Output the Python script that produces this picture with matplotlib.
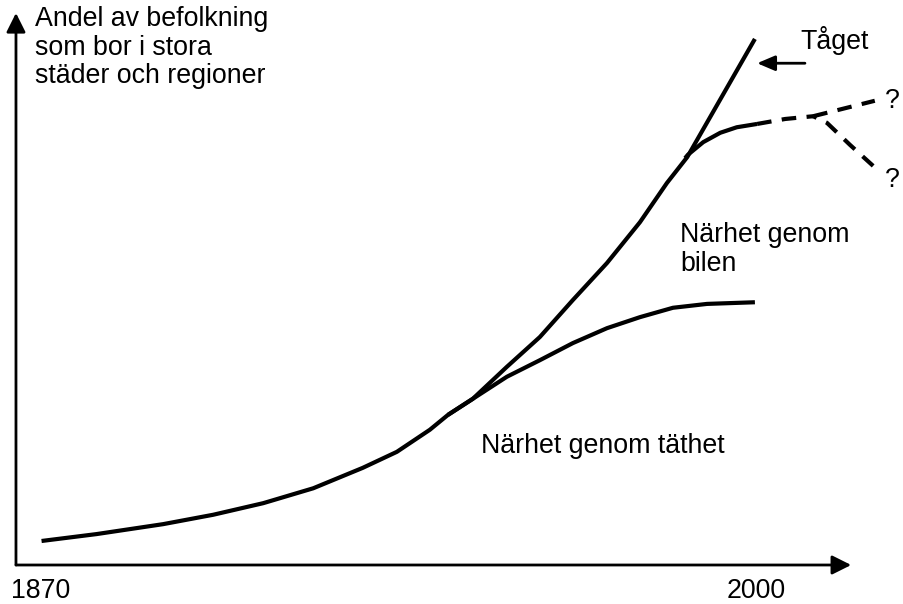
import matplotlib
matplotlib.use("Agg")
import matplotlib.pyplot as plt

plt.rcParams['font.family'] = ['Liberation Sans', 'DejaVu Sans']

# schematic values: x = year, y = share of population (0..100)
main_years = [1870.1, 1880.1, 1892.2, 1901.3, 1910.4, 1919.5, 1928.5, 1934.7, 1940.7, 1944.0,
              1948.5, 1954.7, 1960.7, 1966.7, 1972.9, 1978.9, 1983.8, 1987.5, 1999.8]
main_share = [4.35, 5.6, 7.4, 9.1, 11.2, 13.9, 17.6, 20.5, 24.5, 27.2,
              30.1, 35.9, 41.3, 48.0, 54.7, 62.1, 69.2, 73.9, 95.3]

dens_years = [1944.0, 1948.5, 1954.7, 1960.7, 1966.7, 1972.9, 1978.9, 1984.9, 1991.1, 1999.8]
dens_share = [27.2, 30.1, 34.1, 37.1, 40.2, 42.9, 44.9, 46.6, 47.3, 47.6]

car_years = [1987.1, 1987.6, 1990.4, 1993.5, 1996.5, 2000.2]
car_share = [73.7, 74.3, 76.6, 78.3, 79.3, 79.9]
car_dash_years = [2000.2, 2005.3, 2010.4]
car_dash_share = [79.9, 80.8, 81.3]
up_years = [2010.4, 2021.6]
up_share = [81.3, 84.1]
down_years = [2010.4, 2012.9, 2017.1, 2021.3]
down_share = [81.3, 80.1, 76.1, 72.3]

tick_years = [1870, 2000]
ylabel_lines = ["Andel av befolkning", "som bor i stora", "städer och regioner"]
ylabel_base = [97.6, 92.4, 87.3]
car_lines = ["Närhet genom", "bilen"]
car_base = [58.5, 53.3]

fig = plt.figure(figsize=(9.04, 6.04), dpi=100)
ax = fig.add_axes([0, 0, 1, 1])
ax.set_xlim(1862.545, 2026.909)
ax.set_ylim(-7.065, 102.355)
ax.axis('off')

lw = 3
solid = dict(color='black', lw=lw, solid_joinstyle='round', solid_capstyle='butt')
ax.plot(main_years, main_share, **solid)
ax.plot(dens_years, dens_share, **solid)
ax.plot(car_years, car_share, **solid)
dash = (0, (3.5, 2.5))
ax.plot(car_dash_years, car_dash_share, color='black', lw=lw, linestyle=dash)
ax.plot(up_years, up_share, color='black', lw=lw, linestyle=dash)
ax.plot(down_years, down_share, color='black', lw=lw, linestyle=(2.6, (3.5, 2.5)))

# axes with arrows
x0, y0 = 1865.45, 0
axis_arrow = dict(arrowstyle='-|>,head_length=0.4,head_width=0.2', color='black',
                  lw=2, mutation_scale=29, shrinkA=0, shrinkB=0)
ax.annotate('', xy=(2017.3, y0), xytext=(x0, y0), arrowprops=axis_arrow)
ax.annotate('', xy=(x0, 100), xytext=(x0, y0), arrowprops=axis_arrow)

# Tåget arrow
ax.annotate('', xy=(2000.2, 90.9), xytext=(2008.9, 90.9),
            arrowprops=dict(arrowstyle='-|>,head_length=0.4,head_width=0.17', color='black',
                            lw=2, mutation_scale=27, shrinkA=0, shrinkB=0))

fs = 19.3
for txt, yb in zip(ylabel_lines, ylabel_base):
    ax.text(1868.9, yb, txt, fontsize=fs, ha='left', va='baseline')
for txt, yb in zip(car_lines, car_base):
    ax.text(1986.2, yb, txt, fontsize=fs, ha='left', va='baseline')
ax.text(2008.0, 93.5, "Tåget", fontsize=fs, ha='left', va='baseline')
ax.text(2023.5, 82.8, "?", fontsize=fs, ha='left', va='baseline')
ax.text(2023.5, 68.5, "?", fontsize=fs, ha='left', va='baseline')
ax.text(1950.0, 20.3, "Närhet genom täthet", fontsize=fs, ha='left', va='baseline')
for yr in tick_years:
    ax.text(yr, -6.0, str(yr), fontsize=fs, ha='center', va='baseline')

fig.savefig("out.png", dpi=100)
